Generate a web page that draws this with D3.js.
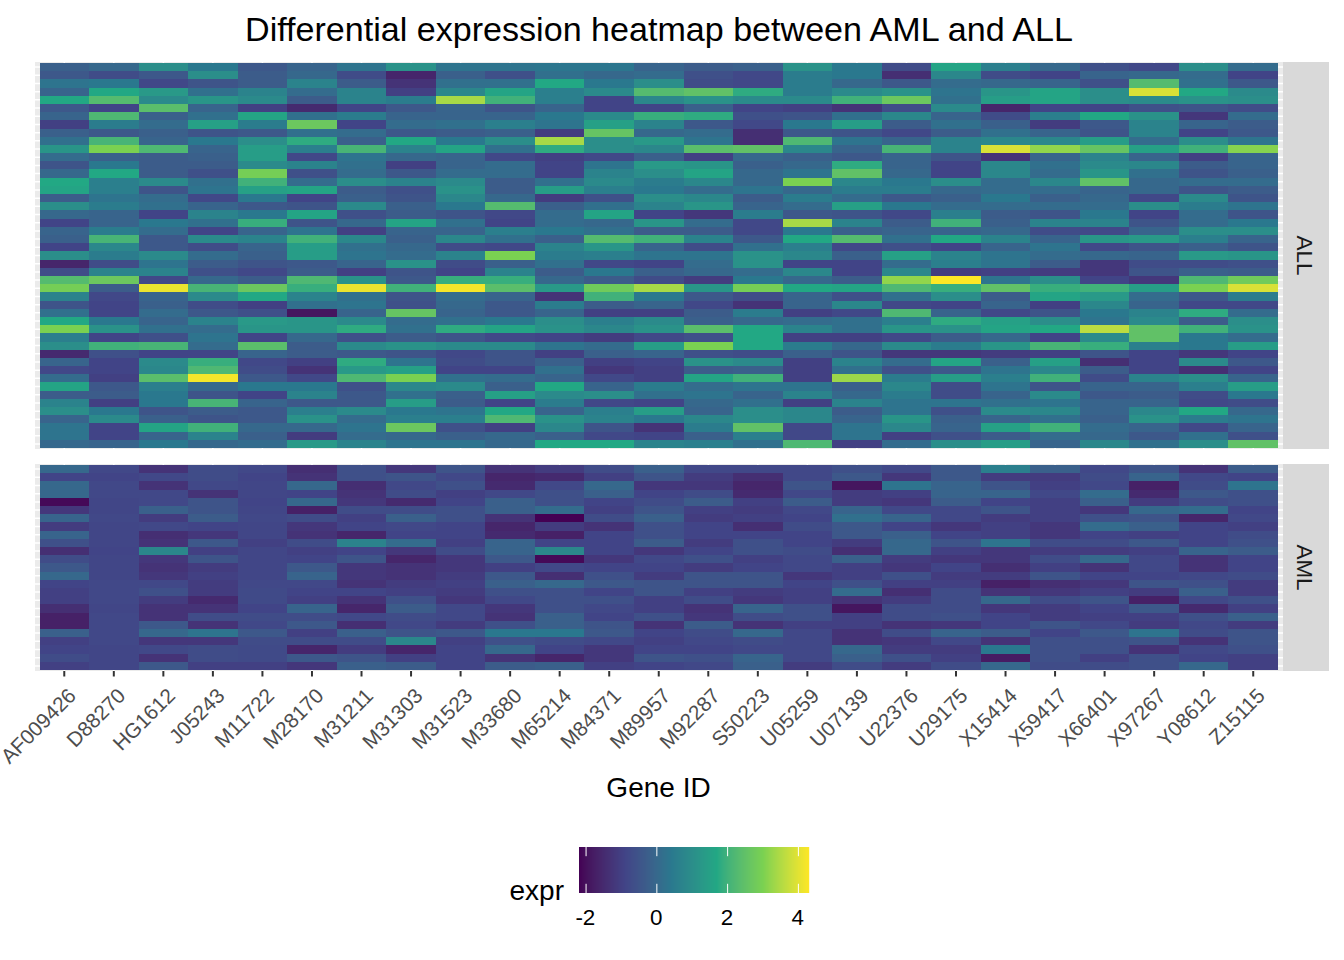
<!DOCTYPE html>
<html>
<head>
<meta charset="utf-8">
<script src="https://cdn.jsdelivr.net/npm/d3@7"></script>
<style>
  html, body { margin: 0; padding: 0; background: #fff; }
  text { font-family: "Liberation Sans", Arial, sans-serif; }
</style>
</head>
<body>
<div id="plot"></div>
<script>
// values read off the picture by colour, so they are estimates
const genes = ["AF009426","D88270","HG1612","J05243","M11722","M28170","M31211","M31303","M31523","M33680",
  "M65214","M84371","M89957","M92287","S50223","U05259","U07139","U22376","U29175","X15414",
  "X59417","X66401","X97267","Y08612","Z15115"];

// ALL panel: one line per sample, top to bottom, one value per gene
const allExpr = [
  [-.2,0,1,.4,-.4,-.1,.3,1.1,.3,.3,.35,.35,-.1,-.3,-.2,1.1,.4,-.7,1.6,.6,0,-.6,-.8,1,.1],
  [-.4,-.7,-.4,1,-.3,0,-.7,-1.6,-.2,-.6,.2,0,.1,-.6,-.8,.5,.4,-1.4,.8,-.7,-.9,-.1,0,.1,-.9],
  [.3,.4,-.8,-.5,-.3,.7,-.3,-1.3,.2,.2,1.7,.4,1,-.7,-.8,.5,0,-.4,.1,0,-.1,-.6,2.3,.2,-.4],
  [-.1,1.7,1.3,.2,.7,.1,.7,-1,.8,1.6,.6,.9,2.3,2.5,1.8,.5,.9,1.1,.3,1.2,1.6,1,3.9,1.7,.9],
  [1.7,2.3,.9,1.2,.9,-.3,.7,.5,3.4,2,.6,-.9,.8,1.1,.9,.9,2,2.7,.2,1.4,1.6,1,.9,1.1,1],
  [-.4,-.9,2.4,-.1,-1,-1.5,-.9,-.4,-.1,-.5,-.1,-.9,-.9,-.2,-.9,-1,-1.3,-.7,.9,-1.6,-.9,-.9,-.6,-.5,-.7],
  [-.1,2.2,-.2,.2,1.6,.2,.5,-.1,-.1,-.1,.4,.9,1.9,1.8,-.6,-.5,.2,.8,-.1,-.7,.6,1.7,1.1,-1.2,.1],
  [-1,.5,.1,1.5,.5,2.7,-.9,.1,.2,.6,.3,1.5,.7,-.4,-.8,.4,1.4,-.3,.2,-.2,-1.1,-.4,.7,-.1,-.3],
  [-.2,-.4,-.2,-.5,-.4,.2,.1,-.4,-.3,-.2,-1.1,2.6,0,.1,-1.4,-.4,-.5,-.8,-.3,.2,-.1,-.5,.7,-.9,-.4],
  [.2,2.1,-.1,.4,1,1.8,-.2,1.7,.4,1,3.4,1,1.3,.3,-1.4,2.2,.3,-.1,.7,.8,.8,1.4,.1,1,.3],
  [1.2,3,2.2,-.1,1.4,.6,2.1,.7,1.6,.2,1.8,1,.8,2.4,2.5,.8,-.1,2.1,.7,3.9,3.2,2.6,1.5,2,3.1],
  [.1,-.2,-.3,-.2,1.4,-.8,.3,0,-.1,-.8,-1,-.8,-.2,-1,0,-.2,-.4,-.1,-.5,-1.3,-.1,.7,-.1,-1,-.1],
  [-.5,.4,-.3,-.3,.9,.7,.2,-1,-.1,.1,-.9,.3,1.3,1.2,-.2,0,1.8,-.1,-.9,.8,.2,.9,.8,-.3,-.1],
  [0,1.7,-.3,-.6,2.9,-.6,.1,-.4,.1,.1,-.9,.7,1,1.6,0,.3,2.5,0,-.9,.8,.1,1.2,.2,-.5,-.2],
  [1.7,.6,.9,.2,2,.1,1,.7,.9,-.3,.2,.9,.5,.8,0,3,.8,.4,1,.1,.8,2.5,0,.1,.1],
  [1.6,.6,-.5,.3,1.5,1.6,-.3,-.6,1.1,-.3,1.4,.6,.4,.1,.3,0,.5,.5,0,.1,.1,-.1,0,-.5,-.3],
  [-.3,.3,.1,-.8,.4,-.9,-.2,-.5,.8,0,-1.1,-.6,1,.8,-.3,.5,.1,-.4,-.2,.4,-.2,0,-.8,.9,-.5],
  [1,.5,.2,-.1,-.4,-.5,.9,-.2,.4,2.3,-.2,.2,.7,1.2,-.1,.1,1.5,.4,.1,.1,.1,.1,1,.5,.3],
  [0,-.1,-.9,.7,.4,1.6,-.6,-.3,-.5,-.8,.1,1.6,-.9,-1.2,.5,-.4,-.5,-.8,.6,-.3,-.5,.4,-.9,.1,-.5],
  [-.9,-.1,.4,.2,1.9,-.5,0,1.6,.2,-.9,.1,0,1.2,.1,-.8,3.4,.7,-.3,2,-.2,.7,.7,-.5,.1,.4],
  [-.1,.5,.1,-.9,-.1,.3,-1,-.1,-.1,.6,.4,.2,-.3,-.3,-.8,.4,-.2,-.1,-.1,0,-.7,-.8,-.1,1,1],
  [-.2,2.1,-.4,.9,.7,2,.8,-.2,.8,.2,-.2,2.3,2,.7,-.4,1.7,2.3,.2,1.7,.7,-.1,1.2,1.3,.6,-.1],
  [-.9,.8,-.4,-.7,-.1,1.4,.2,0,-.7,-.8,.7,1.2,-.1,-.7,.2,.6,-.8,-.6,-.9,-.1,.3,-.8,-.5,-.2,-.5],
  [1,.5,.9,.1,-.2,1.4,.3,.1,.7,3,.5,.6,.3,.3,1.1,.8,-.2,1.5,.7,.3,.1,0,-.1,1.3,1.2],
  [-1.6,-.7,.3,-.3,-.5,-.4,-.1,1.1,-.7,-.2,.2,-.8,-.9,.1,1.1,-.9,-.9,.1,.6,.3,-.3,-1.2,-.7,-.7,-.6],
  [-.7,.7,.7,-.6,-.8,-.3,-1,-.5,-.9,.7,-.3,.4,-.2,0,.1,.8,-.9,.8,-1.1,-1,-1.1,-1.2,-.5,-.2,-.3],
  [2.3,2.7,-.8,0,-.3,2.2,1.1,-.4,1.9,1.9,0,-.3,-.7,-1.1,.4,0,-.3,3.2,4.3,.3,1,-.9,-1.2,2.2,2.8],
  [2.9,-.3,4.1,2.1,2.7,1.9,4.1,2,4.2,2.4,1.3,2.8,3.4,1.2,2.9,1.7,1.6,2.2,1.9,2.5,1.9,2,1.4,3,3.9],
  [.7,-.8,-.1,.9,1.7,.7,.2,-.5,.1,-.1,-1.3,2,.4,-.4,-.7,-.1,-.6,.2,1,-.3,1.6,1.3,.1,-.4,.5],
  [-.5,-.9,-.2,-.7,-1,.2,.3,-.6,0,-.4,.5,-.3,-.1,-.8,-1.3,-.1,.8,-.8,-.9,-.1,-1,.8,-.1,-.8,-.8],
  [.2,-.9,.1,-.4,-.6,-1.9,-.1,2.6,-.1,-.4,-.1,-1,-1,-.3,.5,-1,-.8,2.2,-.1,-.8,-.5,.4,.7,1.8,.1],
  [1.7,.4,-.1,.7,1.3,1.2,.9,.1,.2,.4,1,.6,.9,-.2,0,.1,.2,.6,1.8,1.5,1,.3,.9,-.3,1],
  [3,1.1,.2,.1,1.2,1.2,1.8,.2,1.8,1.6,1.1,.8,1.1,2.4,1.7,.7,.2,1.2,1.1,1.6,1.7,3.6,2.5,2,1.1],
  [.6,-.9,-.6,.3,-.9,0,-.6,-.3,-.5,-.8,-.9,-1.1,-.8,-.6,1.7,-1,-1,-.8,-.3,0,-.9,.9,2.5,.4,.1],
  [1,2,2.1,.1,2.4,-.3,.9,1.1,.9,.9,.3,.1,1.4,3,1.7,.5,0,.9,.5,1.2,2.1,1.9,.6,.4,1.4],
  [-1.5,-.6,-.9,-.9,-.1,-.3,-.4,-.5,-.8,-.5,-1,-.2,-.1,-.6,-.7,-.2,-.5,-1.2,-1.2,-1.1,-1,-.5,-.9,-1.2,-.9],
  [-.1,-.9,.9,1.9,-.8,-1,1.8,.3,-.7,-.5,-.2,-1,-.9,1.1,.9,-1,.7,.1,1.6,-.2,1.5,-1.4,-.9,.9,-.4],
  [-.8,-.9,.8,2.2,-.7,-1.3,1.3,1.5,-.9,-.9,.2,-1.2,-1,-.3,-.2,-1,.2,-.6,-.4,.3,.8,-.3,-.9,-1.4,-.9],
  [.1,-1,2.4,4.2,-.4,-.8,2.2,3,.2,.1,-.1,-.8,-1,1.6,2,-1,3.3,.5,1.4,.6,2,-.7,.7,1,-.1],
  [1.6,-.4,.6,0,.4,.4,-.6,.8,.9,-.2,1.7,-.1,.5,.1,.3,.3,-.2,.8,-.7,.3,-.5,-.1,-.1,.6,1.4],
  [-.3,-.3,.4,-.5,-.9,.7,-.4,.2,-.2,1.5,.9,1,.2,.3,-.1,.7,0,.5,-.7,-.1,.9,-.4,-.3,-.7,.4],
  [.7,-1,.4,2.1,-.1,-.4,-.4,1.4,-.3,-.9,.5,-.8,-.9,0,.2,-1,.7,.3,.3,.2,.3,-.1,-.1,-.8,-.7],
  [1,.4,-.5,-.3,-.4,.6,.9,.4,.3,1.7,-.1,.6,1.4,-.1,1,.8,-.3,.3,-.6,.9,.8,-.1,.8,1.7,0],
  [-.1,.9,-.2,-.5,-.4,1.1,.1,.6,.6,2.2,1.1,.7,.4,.8,1,.8,-.1,1.2,-.2,-.1,.2,-.2,1.1,.5,.3],
  [.3,-.9,1.6,2,0,0,.3,2.7,-.6,-1,.8,-.5,-1.3,.5,2.5,-.8,.3,.8,-.1,1.5,2,.1,-.1,-.8,-.1],
  [.3,-.9,-.1,.7,-.2,-1.1,.1,0,-.2,0,-.2,-.8,-.9,-.2,.6,-.8,.3,-1,-.6,-.3,.1,0,-.4,.2,-.6],
  [0,-.1,.4,0,.1,1.3,.7,.3,.3,0,1.7,1.7,.7,.6,.2,2.2,-1,.1,1,1.4,-.1,.8,.2,1,2.5]
];

// AML panel: one line per gene, same gene order, one value per sample top to bottom
const amlExpr = [
  [0,-.9,0,0,-2.1,-1.2,-.1,-1.1,-.1,-.6,-1.4,-.7,-.4,0,-.9,-1,-1,-1.4,-1.7,-1.7,-.2,-1,-.9,-.7,-1],
  [-.8,-.9,-.8,-.8,-.85,-.85,-.8,-.85,-.85,-.85,-.9,-.85,-.85,-.85,-.8,-.8,-.8,-.85,-.8,-.8,-.8,-.8,-.85,-.85,-.85],
  [-1.3,-.8,-1.3,-.8,-.8,-.2,-1.1,-.8,-1.4,-1.3,.8,-1.2,-1.3,-1.2,-.8,-.6,-1.1,-1.3,-1.3,-.4,0,-1.2,-.8,-1.3,-.4],
  [-.7,-.7,-.8,-1.3,-.5,-.5,-.3,-.9,-1.2,-.4,-1,-.5,-1.1,-1,-1.1,-1.1,-1.5,-1.3,-.7,-1.3,.3,-1.2,-.7,-.7,-1],
  [-.8,-.9,-.85,-.85,-.9,-.85,-.8,-.85,-.85,-1,-.85,-.85,-.85,-.85,-.8,-.75,-.75,-.9,-.7,-.8,-.4,-.7,-.75,-.75,-1],
  [-1.4,-1.3,0,-.9,0,-1.7,-.7,-1.2,-1.3,-.7,-1,-.9,-.4,-.1,-.8,-.9,-1,-.1,-.7,-.4,-1,-.7,-1.6,-.4,-1.2],
  [-.6,-.6,-1.4,-1.3,-1.2,-.7,-1,-.9,-1.6,.7,-.9,-.5,-1.2,-1.2,-1.3,-.9,-1.3,-1.6,-.8,-1.4,-.2,-.7,-1.1,-.5,-.2],
  [-1.2,-.5,-.8,-.7,-1.5,-.7,-.2,-.8,-.9,.1,-1.2,-1.6,-1.3,-1.3,-1.1,-1,-.6,-.3,-.7,-.8,-.5,.8,-1.6,-1,-.3],
  [-.5,-.8,-.6,-1,-.9,-.6,-.6,-.9,-.9,-1,-.7,-1.2,-1.2,-1.1,-1,-1.1,-1.2,-.8,-.8,-1.1,-.4,-1,-.9,-.9,-.9],
  [-1.3,-1.6,-1.5,-.8,-.2,-.2,-1.3,-1.6,-1.5,-.1,-.1,-.4,-1,-.4,-.2,-.6,-.8,-1.2,-1.3,-.6,.4,-.6,0,-1.3,-.3],
  [-1.1,-1.5,-.8,-.6,-.6,.1,-2.2,-1.1,-1.7,-.9,.8,-2.1,-.8,-1.4,0,-.6,-.6,-.6,-.2,-.2,.4,-.7,-.9,-1.6,-.2],
  [-.7,-1,0,-.2,-.9,-1,-.7,-1.3,-.9,-.9,-.9,-1.2,-.9,-.6,-.4,-.9,-.6,-.8,-.9,-.5,-.4,-.8,-1.2,-1.2,-1],
  [-.2,-.5,-1.2,-.9,-.7,-.5,-.2,-.6,-.6,-.3,-1.2,-.8,-.9,-1.1,-.5,-.5,-1,-1,-.6,-1.3,-.9,-1,-.9,-.5,-.9],
  [-.8,-1.1,-1.2,-.7,-.3,-1,-1.1,-.9,-.9,-1.1,-.9,-.6,-1.1,-.5,-.5,-1,-.7,-1.3,-1.2,-.3,-.7,-.8,-.9,-.6,-.8],
  [-.8,-1.4,-1.6,-1.5,-1,-1.1,-1,-1.4,-.9,-.6,-.6,-1,-.9,-.5,-.5,-1.1,-1.2,-.1,-.7,-1.3,0,-.7,-.8,-.1,-.2],
  [-.8,-.8,-.5,-.8,-.3,-.8,-.9,-.7,-.9,-.9,-.7,-.8,-.8,-1.2,-.9,-1,-1,-.6,-.6,-1,-.8,-.8,-.8,-.8,-1.1],
  [-.6,-.4,-1.9,-1.1,-1.1,-.1,.2,-.4,-.4,-1.1,-1.4,-.2,-1,-1,-.6,.1,-1.3,-1.9,-1,-1,-1.3,-1.3,0,-.2,-.7],
  [-.8,-1.2,.3,-1,-1.2,-.8,-.1,-.9,-.2,0,0,-1.1,-1.2,-.6,-1,-1.4,-1.1,-.7,-.7,-1.3,-.7,-1.2,-1.1,-.6,-1.1],
  [-.4,-.4,-.1,-.1,-.3,-.8,-.8,-1.2,-.9,-.5,-1,-1.2,-.9,-1.1,-1,-.7,-.7,-.7,-.6,-1.2,-.1,-.8,-1.1,-1,-.7],
  [.6,-1.1,-.5,-.1,-.9,-.5,-1.1,-1,-1,.3,-1.2,-1.2,-1.4,-1.1,-1.7,-1.3,0,-1.2,-.9,-.9,-.3,-1.3,.4,-1.8,0],
  [-.2,-1.1,-1,-.8,-1,-1,-1,-1.2,-1.2,-.7,-1.1,-.7,-1,-.5,-1.4,-1.2,-.7,-1.1,-1.1,-.5,-.9,-.6,-.6,-.6,-.7],
  [-.8,-.7,-.8,.1,-.2,-1.2,-.6,.1,-.9,-.7,-1.1,0,-1.3,-.9,-1.2,-1,-.5,-.9,-1,-.8,-.4,-.6,-.6,-1,-.7],
  [-.5,-.1,-1.7,-1.5,-1.1,0,-.5,-.2,-1,-.4,-1,-.8,-.8,-.9,-.5,-1.1,-1.7,-.4,-1,-1.1,.3,-.5,-1.3,-.6,-.6],
  [-1.3,-.8,-.7,-.4,-.7,.1,-1.6,-.9,-.9,-.9,-.1,-1.3,-1.3,-.8,-.6,-.2,-.8,-1.5,-.6,-.8,-.7,-1.3,-.8,-.9,0],
  [-.3,-.9,.3,-.6,-.6,-.9,-.8,-1,-.7,-.6,-.3,-.9,-.9,-.7,-1.1,-1.1,-.6,-1,-.2,-1.1,-.5,-.5,-.6,-1,-1]
];

const panelNames = ["ALL", "AML"];
const legendTicks = [-2, 0, 2, 4];

const width = 1344, height = 960;

const svg = d3.select("#plot")
  .append("svg")
    .attr("width", width)
    .attr("height", height)
    .style("display", "block");

// ggplot's viridis: six colours stretched over the value range, blended in lab
const viridisSix = ["#440154", "#414487", "#2A788E", "#22A884", "#7AD151", "#FDE725"];
const exprMin = -2.2, exprMax = 4.3;
const color = d3.scaleLinear()
  .domain(d3.range(6).map(function(i) { return exprMin + (exprMax - exprMin) * i / 5; }))
  .range(viridisSix)
  .interpolate(d3.interpolateLab);

const x = d3.scaleBand().domain(genes).range([39.5, 1278]);

// each panel gets its own row scale, rows are the same height in both
const panels = [
  { name: panelNames[0], top: 62, bottom: 449, y: d3.scaleBand().domain(d3.range(allExpr.length)).range([63, 448]),
    cell: function(g, s) { return allExpr[s][g]; } },
  { name: panelNames[1], top: 464, bottom: 671, y: d3.scaleBand().domain(d3.range(amlExpr[0].length)).range([465, 670]),
    cell: function(g, s) { return amlExpr[g][s]; } }
];

panels.forEach(function(p) {
  const g = svg.append("g");

  // panel background and gridlines, only the edges stay visible around the cells
  g.append("rect")
    .attr("x", 35).attr("y", p.top)
    .attr("width", 1248).attr("height", p.bottom - p.top)
    .attr("fill", "#ebebeb");

  g.selectAll(".hgrid")
    .data(p.y.domain())
    .enter().append("line")
      .attr("x1", 35).attr("x2", 1283)
      .attr("y1", function(d) { return p.y(d) + p.y.bandwidth() / 2; })
      .attr("y2", function(d) { return p.y(d) + p.y.bandwidth() / 2; })
      .attr("stroke", "#fff").attr("stroke-width", 1.5);

  g.selectAll(".vgrid")
    .data(genes)
    .enter().append("line")
      .attr("y1", p.top).attr("y2", p.bottom)
      .attr("x1", function(d) { return x(d) + x.bandwidth() / 2; })
      .attr("x2", function(d) { return x(d) + x.bandwidth() / 2; })
      .attr("stroke", "#fff").attr("stroke-width", 1.5);

  const cells = [];
  genes.forEach(function(gene, gi) {
    p.y.domain().forEach(function(s) {
      cells.push({ gene: gene, sample: s, value: p.cell(gi, s) });
    });
  });

  g.selectAll(".cell")
    .data(cells)
    .enter().append("rect")
      .attr("x", function(d) { return x(d.gene); })
      .attr("y", function(d) { return p.y(d.sample); })
      .attr("width", x.bandwidth())
      .attr("height", p.y.bandwidth())
      .attr("fill", function(d) { return color(d.value); })
      .attr("shape-rendering", "crispEdges");

  // strip on the right
  g.append("rect")
    .attr("x", 1283).attr("y", p.top)
    .attr("width", 46).attr("height", p.bottom - p.top)
    .attr("fill", "#d9d9d9");

  g.append("text")
    .attr("transform", "translate(1297," + ((p.top + p.bottom) / 2) + ") rotate(90)")
    .attr("text-anchor", "middle")
    .style("font-size", "22.4px")
    .attr("fill", "#1a1a1a")
    .text(p.name);
});

// x axis below the AML panel
const xAxis = svg.append("g")
  .attr("transform", "translate(0,671)")
  .call(d3.axisBottom(x).tickSize(5.5).tickPadding(3).offset(0));

xAxis.select(".domain").remove();
xAxis.selectAll(".tick line").attr("stroke", "#333").attr("stroke-width", 2);
xAxis.selectAll(".tick text")
  .attr("fill", "#4d4d4d")
  .attr("text-anchor", "end")
  .attr("dy", "0")
  .attr("y", 0)
  .attr("transform", "translate(13,26) rotate(-45)")
  .style("font-size", "20.8px")
  .style("font-family", '"Liberation Sans", Arial, sans-serif');

svg.append("text")
  .attr("x", 659).attr("y", 41)
  .attr("text-anchor", "middle")
  .style("font-size", "34.1px")
  .attr("fill", "#000")
  .text("Differential expression heatmap between AML and ALL");

svg.append("text")
  .attr("x", 658.5).attr("y", 797)
  .attr("text-anchor", "middle")
  .style("font-size", "28px")
  .attr("fill", "#000")
  .text("Gene ID");

// colour bar legend
const legendX = d3.scaleLinear().domain([exprMin, exprMax]).range([579, 809]);
const legendTop = 847, legendBottom = 893;

svg.append("text")
  .attr("x", 564).attr("y", 900)
  .attr("text-anchor", "end")
  .style("font-size", "28px")
  .attr("fill", "#000")
  .text("expr");

svg.selectAll(".bar")
  .data(d3.range(230))
  .enter().append("rect")
    .attr("x", function(i) { return 579 + i; })
    .attr("y", legendTop)
    .attr("width", 1.2)
    .attr("height", legendBottom - legendTop)
    .attr("fill", function(i) { return color(legendX.invert(579 + i + 0.5)); });

legendTicks.forEach(function(t) {
  [[legendTop, legendTop + 9.2], [legendBottom - 9.2, legendBottom]].forEach(function(seg) {
    svg.append("line")
      .attr("x1", legendX(t)).attr("x2", legendX(t))
      .attr("y1", seg[0]).attr("y2", seg[1])
      .attr("stroke", "#fff").attr("stroke-width", 1);
  });
  svg.append("text")
    .attr("x", legendX(t) - 0.7).attr("y", 925)
    .attr("text-anchor", "middle")
    .style("font-size", "22.4px")
    .attr("fill", "#000")
    .text(t);
});
</script>
</body>
</html>
